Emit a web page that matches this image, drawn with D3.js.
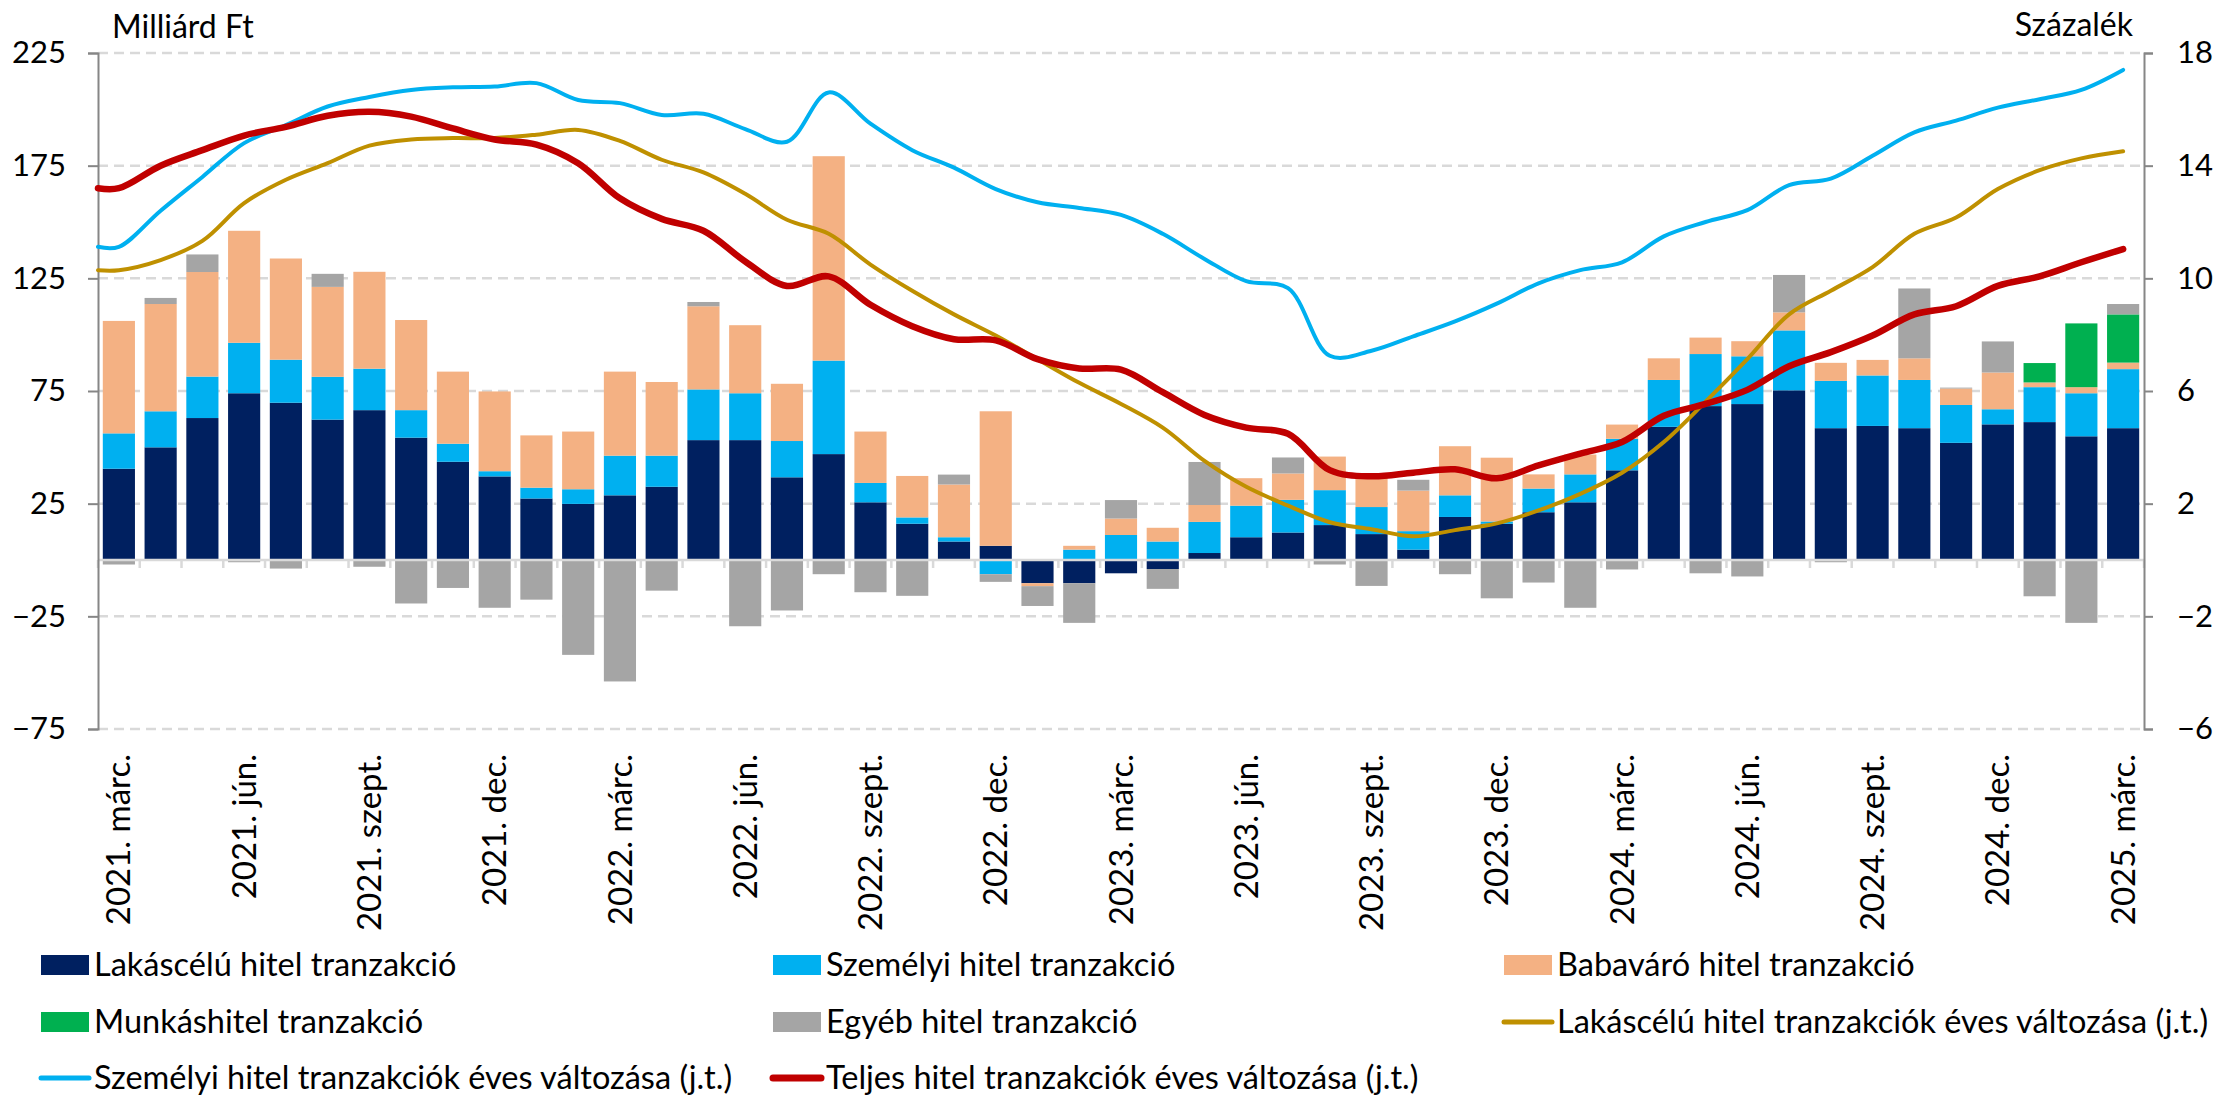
<!DOCTYPE html>
<html>
<head>
<meta charset="utf-8">
<script src="https://cdn.jsdelivr.net/npm/d3@7"></script>
<style>
  body { margin: 0; background: #fff; }
  text { font-family: Lato, "Noto Sans", sans-serif; fill: #000; }
</style>
</head>
<body>
<svg id="chart" width="2219" height="1102"></svg>
<script>
// months, 2021 March .. 2025 March
const months = [
  "2021-03","2021-04","2021-05","2021-06","2021-07","2021-08","2021-09","2021-10","2021-11","2021-12",
  "2022-01","2022-02","2022-03","2022-04","2022-05","2022-06","2022-07","2022-08","2022-09","2022-10",
  "2022-11","2022-12","2023-01","2023-02","2023-03","2023-04","2023-05","2023-06","2023-07","2023-08",
  "2023-09","2023-10","2023-11","2023-12","2024-01","2024-02","2024-03","2024-04","2024-05","2024-06",
  "2024-07","2024-08","2024-09","2024-10","2024-11","2024-12","2025-01","2025-02","2025-03"];

const tickMonths = ["2021-03","2021-06","2021-09","2021-12","2022-03","2022-06","2022-09","2022-12",
  "2023-03","2023-06","2023-09","2023-12","2024-03","2024-06","2024-09","2024-12","2025-03"];
const tickLabels = ["2021. márc.","2021. jún.","2021. szept.","2021. dec.","2022. márc.","2022. jún.",
  "2022. szept.","2022. dec.","2023. márc.","2023. jún.","2023. szept.","2023. dec.","2024. márc.",
  "2024. jún.","2024. szept.","2024. dec.","2025. márc."];

const leftTicks = [-75, -25, 25, 75, 125, 175, 225];
const rightTicks = [-6, -2, 2, 6, 10, 14, 18];

// bars, Milliárd Ft
const lakas = [40.5,50,63,74,69.8,62.3,66.5,54.3,43.6,37.1, 27.3,24.9,28.7,32.5,53.2,53.2,36.7,47,25.6,16.1,
  8.2,6.3,-10.3,-10.3,-5.9,-4,3.1,10.1,12.2,15.5, 11.5,4.6,19.1,16.1,21.2,25.6,39.8,59.1,68.3,69.2,
  75.3,58.5,59.5,58.5,52,60.2,61.2,54.9,58.5];
const szemelyi = [15.7,16,18.4,22.4,19.1,19,18.4,12.2,8,2.3, 4.8,6.5,17.6,13.8,22.5,20.8,16.1,41.5,8.6,2.8,
  1.9,-6.3,0,4.6,11.1,8.2,13.8,14,14.5,15.5, 12,8.2,9.6,1,10.5,12.4,14,20.8,23.1,21.2,
  26.6,21,22.4,21.4,16.8,6.7,15.5,19.1,26.2];
const babavaro = [49.9,47.6,46.4,49.7,44.9,39.9,43,40,32,35.4, 23.2,25.6,37.3,32.7,36.9,30.2,25.4,90.7,22.8,18.4,
  23.4,59.7,-1.3,1.7,7.3,6.1,7.5,12.2,11.7,14.9, 13.2,18,21.8,28.3,6.3,8.8,6.3,9.6,7.3,6.7,
  8,8,6.9,9.6,7.3,16.3,2.1,2.7,2.9];
const munkas = [0,0,0,0,0,0,0,0,0,0, 0,0,0,0,0,0,0,0,0,0, 0,0,0,0,0,0,0,0,0,0,
  0,0,0,0,0,0,0,0,0,0, 0,0,0,0,0,0,8.6,28.3,21.4];
const egyeb = [-2,2.7,7.8,-1,-3.8,5.8,-3,-19.3,-12.4,-21.2, -17.6,-42.1,-53.9,-13.6,1.9,-29.4,-22.4,-6.3,-14.3,-15.9,
  4.4,-3.4,-8.8,-17.6,8.2,-8.8,19.1,0,7.1,-2, -11.5,4.8,-6.3,-17,-10,-21.2,-4.2,0,-5.9,-7.3,
  16.6,-1,0,31,0.4,13.8,-16.1,-27.9,4.6];

// lines, Százalék (right axis)
const lakasValt = [10.29,10.65,11.33,12.67,13.5,14.09,14.71,14.93,14.98,14.98, 15.1,15.27,14.88,14.21,13.76,13.0,12.08,11.58,10.49,9.56,
  8.72,7.97,7.13,6.29,5.54,4.7,3.52,2.6,1.93,1.34, 1.09,0.84,1.06,1.3,1.76,2.35,3.1,4.19,5.62,7.13,
  8.72,9.56,10.4,11.58,12.16,13.17,13.84,14.26,14.51];
const szemelyiValt = [11.12,12.4,13.6,14.8,15.44,16.1,16.44,16.69,16.78,16.81, 16.93,16.33,16.22,15.8,15.84,15.3,14.85,16.6,15.49,14.55,
  13.93,13.17,12.7,12.5,12.25,11.58,10.69,9.9,9.65,7.25, 7.43,7.94,8.47,9.1,9.82,10.29,10.57,11.49,12.0,12.42,
  13.31,13.54,14.35,15.18,15.6,16.06,16.36,16.69,17.4];
const teljesValt = [13.2,14.0,14.55,15.07,15.38,15.77,15.91,15.74,15.32,14.93, 14.75,14.09,12.84,12.11,11.69,10.6,9.73,10.07,9.06,8.3,
  7.84,7.8,7.13,6.8,6.76,5.96,5.15,4.7,4.48,3.19, 2.97,3.1,3.22,2.9,3.36,3.78,4.19,5.12,5.54,6.04,
  6.88,7.38,7.97,8.72,9.01,9.73,10.07,10.57,11.04];

const barSeries = [
  {key: "lakas", name: "Lakáscélú hitel tranzakció", values: lakas, color: "#002060"},
  {key: "szemelyi", name: "Személyi hitel tranzakció", values: szemelyi, color: "#00B0F0"},
  {key: "babavaro", name: "Babaváró hitel tranzakció", values: babavaro, color: "#F4B183"},
  {key: "munkas", name: "Munkáshitel tranzakció", values: munkas, color: "#00B050"},
  {key: "egyeb", name: "Egyéb hitel tranzakció", values: egyeb, color: "#A5A5A5"}
];
const lineSeries = [
  {name: "Lakáscélú hitel tranzakciók éves változása (j.t.)", values: lakasValt, color: "#BF9000", width: 4},
  {name: "Személyi hitel tranzakciók éves változása (j.t.)", values: szemelyiValt, color: "#00B0F0", width: 4},
  {name: "Teljes hitel tranzakciók éves változása (j.t.)", values: teljesValt, color: "#C00000", width: 6.5}
];

const margin = {top: 53, right: 75, bottom: 373, left: 98};
const W = 2219, H = 1102;
const svg = d3.select("#chart");

const x = d3.scaleBand().domain(months)
  .range([margin.left, W - margin.right])
  .paddingInner(0.23).paddingOuter(0.115);
const y = d3.scaleLinear().domain([-75, 225]).range([H - margin.bottom, margin.top]);
const y2 = d3.scaleLinear().domain([-6, 18]).range([H - margin.bottom, margin.top]);
const x0 = margin.left, x1 = W - margin.right;
const cx = m => x(m) + x.bandwidth() / 2;

// gridlines
svg.append("g").selectAll("line").data(leftTicks).join("line")
  .attr("x1", x0).attr("x2", x1)
  .attr("y1", d => y(d)).attr("y2", d => y(d))
  .attr("stroke", "#D9D9D9").attr("stroke-width", 2.5)
  .attr("stroke-dasharray", "10,6");

// bars
const rows = months.map((m, i) => {
  const r = {month: m};
  barSeries.forEach(s => r[s.key] = s.values[i]);
  return r;
});
const stacked = d3.stack().keys(barSeries.map(s => s.key))
  .offset(d3.stackOffsetDiverging)(rows);

svg.append("g").selectAll("g").data(stacked).join("g")
  .attr("fill", (d, i) => barSeries[i].color)
  .selectAll("rect").data(d => d).join("rect")
  .attr("x", d => x(d.data.month))
  .attr("width", x.bandwidth())
  .attr("y", d => y(Math.max(d[0], d[1])))
  .attr("height", d => Math.abs(y(d[0]) - y(d[1])));

// zero line with category ticks
const zeroG = svg.append("g");
zeroG.append("line")
  .attr("x1", x0).attr("x2", x1).attr("y1", y(0)).attr("y2", y(0))
  .attr("stroke", "#D9D9D9").attr("stroke-width", 2.5);
zeroG.selectAll("line.tk").data(d3.range(months.length + 1)).join("line")
  .attr("class", "tk")
  .attr("x1", i => x0 + i * x.step()).attr("x2", i => x0 + i * x.step())
  .attr("y1", y(0)).attr("y2", y(0) + 8)
  .attr("stroke", "#D9D9D9").attr("stroke-width", 2.5);

// axes
const leftAxis = svg.append("g")
  .attr("transform", `translate(${x0},0)`)
  .call(d3.axisLeft(y).tickValues(leftTicks).tickSize(10).tickPadding(22).tickFormat(d3.format("d")));
const rightAxis = svg.append("g")
  .attr("transform", `translate(${x1},0)`)
  .call(d3.axisRight(y2).tickValues(rightTicks).tickSize(9).tickPadding(24).tickFormat(d3.format("d")));
[leftAxis, rightAxis].forEach(g => {
  g.select(".domain").attr("stroke", "#868686").attr("stroke-width", 2);
  g.selectAll(".tick line").attr("stroke", "#868686").attr("stroke-width", 2);
  g.selectAll(".tick text").attr("font-size", 31).attr("font-family", "Lato, sans-serif").attr("fill", "#000");
});

// lines
const line = d3.line().x(d => d.x).y(d => y2(d.v)).curve(d3.curveCatmullRom.alpha(0.5));
svg.append("g").selectAll("path").data(lineSeries).join("path")
  .attr("fill", "none")
  .attr("stroke", d => d.color)
  .attr("stroke-width", d => d.width)
  .attr("stroke-linejoin", "round").attr("stroke-linecap", "round")
  .attr("d", d => line([{x: x0, v: d.values[0]}].concat(d.values.map((v, i) => ({x: cx(months[i]), v})))));

// x labels
svg.append("g").selectAll("text").data(tickMonths).join("text")
  .attr("transform", m => `translate(${cx(m)},${y(-75) + 25}) rotate(-90)`)
  .attr("text-anchor", "end").attr("dy", "0.35em")
  .attr("font-size", 33)
  .text((m, i) => tickLabels[i]);

// axis titles
svg.append("text").attr("x", 112).attr("y", 38).attr("font-size", 32).text("Milliárd Ft");
svg.append("text").attr("x", 2133).attr("y", 36).attr("text-anchor", "end").attr("font-size", 32).text("Százalék");

// legend
const legendItems = [
  {name: barSeries[0].name, color: barSeries[0].color, type: "bar"},
  {name: barSeries[1].name, color: barSeries[1].color, type: "bar"},
  {name: barSeries[2].name, color: barSeries[2].color, type: "bar"},
  {name: barSeries[3].name, color: barSeries[3].color, type: "bar"},
  {name: barSeries[4].name, color: barSeries[4].color, type: "bar"},
  {name: lineSeries[0].name, color: lineSeries[0].color, type: "line", width: 5},
  {name: lineSeries[1].name, color: lineSeries[1].color, type: "line", width: 5},
  {name: lineSeries[2].name, color: lineSeries[2].color, type: "line", width: 7}
];
const legendCols = [41, 773, 1504];
const legendRows = [965, 1022, 1078];
const lg = svg.append("g").selectAll("g").data(legendItems).join("g")
  .attr("transform", (d, i) => `translate(${legendCols[i % 3]},${legendRows[Math.floor(i / 3)]})`);
lg.filter(d => d.type === "bar").append("rect")
  .attr("x", 0).attr("y", -10).attr("width", 48).attr("height", 20)
  .attr("fill", d => d.color);
lg.filter(d => d.type === "line").append("line")
  .attr("x1", 0).attr("x2", 48).attr("y1", 0).attr("y2", 0)
  .attr("stroke", d => d.color).attr("stroke-width", d => d.width).attr("stroke-linecap", "round");
lg.append("text").attr("x", 53).attr("dy", "0.35em").attr("font-size", 32.5).text(d => d.name);
</script>
</body>
</html>
